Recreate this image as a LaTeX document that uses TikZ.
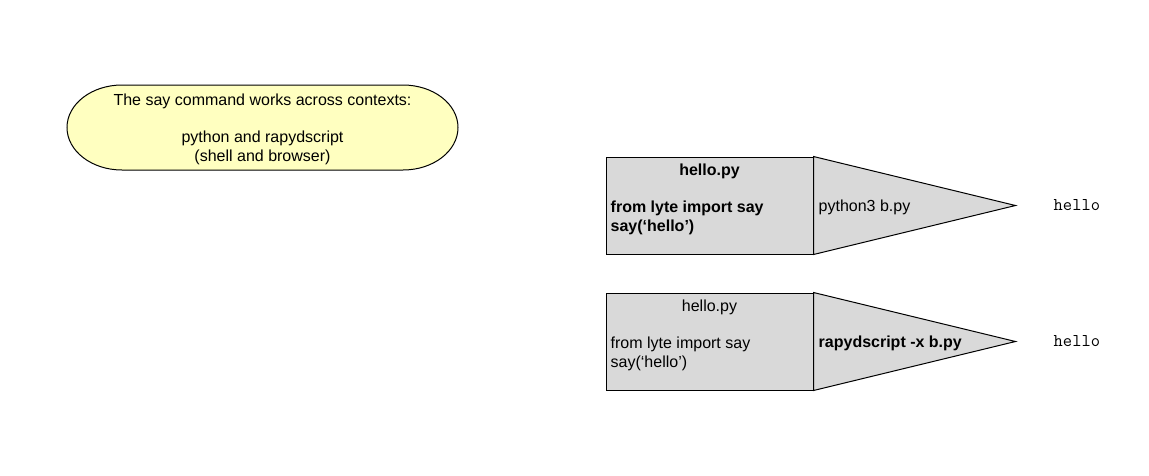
\documentclass[tikz,border=0pt]{standalone}
\usepackage{fontspec}
\setmainfont{Liberation Sans}
\usepackage{xcolor}
\usepackage{tikz}
\usetikzlibrary{positioning,calc}
\definecolor{note}{HTML}{FFFFC0}
\definecolor{file}{HTML}{D9D9D9}

\begin{document}
\begin{tikzpicture}[
  x=1pt,y=-1pt,
  font=\fontsize{16}{19}\selectfont,
  every node/.style={inner sep=5pt},
  notetxt/.style={align=center,font=\fontsize{16}{18.5}\selectfont},
  notebox/.style={draw,line width=1pt,fill=note},
  srcbox/.style={draw,line width=1pt,fill=file,minimum width=207pt,minimum height=97pt},
  cone/.style={draw,line width=1pt,fill=file},
  code/.style={anchor=west,align=left},
  outtxt/.style={anchor=west,font=\fontsize{18}{20}\selectfont\ttfamily}
]
\path[use as bounding box] (0,0) rectangle (1149,475);

% note
\coordinate (ctx) at (262.5,127.5);
\draw[notebox] ($(ctx)+(-140.5,-42.5)$) -- ($(ctx)+(140.5,-42.5)$)
  arc[start angle=-90,end angle=90,x radius=55,y radius=42.5]
  -- ($(ctx)+(-140.5,42.5)$)
  arc[start angle=90,end angle=270,x radius=55,y radius=42.5] -- cycle;
\node[notetxt] (ctxtxt) at ($(ctx)+(0,2)$) {The say command works across contexts:\\\mbox{}\\python and rapydscript\\(shell and browser)};

% python side
\node[srcbox] (py) at (709.5,205.5) {};
\draw[cone] (py.north east) -- ($(py.east)+(202,0)$) coordinate (pytip) -- (py.south east) -- cycle;
\node[font=\fontsize{16}{19}\selectfont\bfseries] (pytitle) at ($(py.north)+(0,15)$) {hello.py};
\node[code,font=\fontsize{16}{19.5}\selectfont\bfseries] (pycode) at ($(py.west)+(0,12.5)$) {from lyte import say\\say(‘hello’)};
\node[anchor=west] (pyrun) at ($(py.east)+(0,1.5)$) {python3 b.py};
\node[outtxt] (pyout) at ($(pytip)+(33,0)$) {hello};

% rapydscript side
\node[srcbox] (rs) at (709.5,341.5) {};
\draw[cone] (rs.north east) -- ($(rs.east)+(202,0)$) coordinate (rstip) -- (rs.south east) -- cycle;
\node (rstitle) at ($(rs.north)+(0,15)$) {hello.py};
\node[code,font=\fontsize{16}{19.5}\selectfont] (rscode) at ($(rs.west)+(0,12.5)$) {from lyte import say\\say(‘hello’)};
\node[anchor=west,font=\fontsize{16}{19}\selectfont\bfseries] (rsrun) at ($(rs.east)+(0,1.5)$) {rapydscript -x b.py};
\node[outtxt] (rsout) at ($(rstip)+(33,0)$) {hello};
\end{tikzpicture}
\end{document}
